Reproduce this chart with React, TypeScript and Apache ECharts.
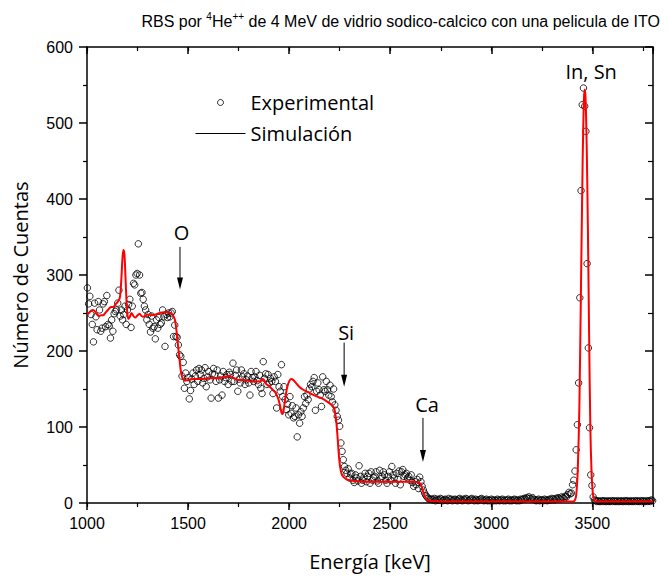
import React, { useEffect, useRef } from "react";
import * as echarts from "echarts";

// ---------- Experimental spectrum (channels, 6 keV per channel from 1002 keV) ----------
const expStartKeV = 1002;
const expStepKeV = 6;
const expRegionA = [
  283, 262, 272, 248, 235, 212, 263, 245, 228, 265,
  254, 226, 230, 262, 265, 232, 273, 235, 233, 217,
  241, 226, 249, 252, 254, 263, 280, 246, 254, 241,
  248, 259, 235, 254, 261, 268, 231, 259, 289, 287,
  300, 302, 341, 300, 276, 277, 268, 259, 254, 241,
  248, 235, 225, 246, 230, 232, 216, 241, 230, 244,
  235, 237, 254, 245, 206, 248, 244, 250, 245, 250,
  252, 219, 234, 219, 218, 208, 195, 193, 167, 185,
  151, 171, 160,
];
const expRegionB = [
  165, 137, 148, 163, 171, 156, 167, 175, 160, 177,
  169, 175, 158, 164, 178, 153, 166, 173, 162, 138,
  170, 177, 169, 160, 175, 138, 162, 167, 142, 173,
  160, 165, 169, 156, 172, 169, 160, 184, 160, 168,
  175, 147, 163, 158, 175, 166, 170, 156, 162, 167,
  158, 142, 173, 165, 160, 166, 173, 161, 156, 168,
  151, 144, 186, 164, 170, 156, 169, 158, 164, 160,
  144, 166, 160, 125, 169, 153, 147, 182, 140, 153,
  136, 123, 130, 116, 140, 118, 128, 112, 114, 125,
  87, 116, 105, 120, 114, 125, 140, 131, 142, 136,
  150, 156, 153, 160, 165, 122, 147, 158, 149, 142,
  127, 166, 149, 147, 160, 149, 142, 155, 140, 133,
  150, 129, 122, 114,
];
const expRegionC = [
  109, 101, 79, 68, 57, 48, 43, 39, 45, 33,
  38, 39, 30, 27, 37, 33, 29, 49, 35, 26,
  30, 34, 39, 28, 35, 39, 26, 41, 30, 33,
  35, 41, 29, 26, 43, 32, 35, 41, 37, 30,
  26, 35, 41, 30, 48, 37, 33, 26, 39, 31,
  42, 24, 41, 44, 35, 37, 39, 33, 35, 30,
  37, 27, 22, 28, 24, 31, 19, 34, 28, 22,
  17, 13, 10, 8, 6, 5, 5,
];
const expRegionD = [
  5, 4, 6, 3, 5, 4, 4, 6, 5, 3, 4, 5, 4, 3, 6, 4, 5, 3, 4, 5,
  4, 3, 5, 6, 4, 3, 5, 4, 6, 5, 3, 4, 5, 6, 4, 3, 5, 4, 3, 4,
  5, 6, 4, 3, 4, 5, 3, 4, 3, 5, 4, 3, 4, 3, 5, 4, 3, 4, 5, 3,
  4, 3, 4, 5, 3, 4, 3, 4, 5, 4, 3, 4, 3, 5, 4, 5, 6, 5, 7, 6,
  8, 6, 5, 7, 5, 4, 3, 4, 5, 3, 4, 4, 3, 5, 4, 3, 4, 5, 4, 6,
  5, 4, 6, 5, 7, 6, 5, 8, 7, 6, 9, 8, 11, 14, 12,
];
const expRegionE = [13, 24, 30, 42, 70, 103, 158, 270, 411, 524, 546, 522, 489, 315, 204, 99, 37, 23, 8, 4];
const expRegionF = [
  3, 2, 3, 2, 2, 3, 2, 3, 2, 2, 3, 2, 2, 3, 2, 3, 2, 2, 3, 2,
  2, 3, 2, 2, 3, 2, 3, 2, 2, 3, 2, 2, 3, 2, 3, 2, 2, 3, 2, 3,
  2, 2, 3, 2, 3, 2, 4, 3,
];

// ---------- Simulation curve ----------
const simEnergy = [
  1000, 1010, 1020, 1030, 1040, 1050, 1060, 1070, 1080, 1090, 1100, 1110, 1120, 1130, 1140, 1150, 1160,
  1165, 1170, 1175, 1180, 1185, 1190, 1195, 1200, 1205, 1212, 1220, 1230, 1240, 1250, 1260, 1270, 1280,
  1290, 1300, 1320, 1340, 1360, 1380, 1400, 1415, 1425, 1435, 1442, 1450, 1458, 1466, 1475, 1485, 1500,
  1530, 1560, 1600, 1640, 1680, 1700, 1720, 1750, 1780, 1810, 1840, 1860, 1868, 1875, 1885, 1900, 1915,
  1930, 1945, 1955, 1962, 1967, 1972, 1980, 1990, 2000, 2010, 2020, 2030, 2050, 2070, 2100, 2130, 2160,
  2190, 2210, 2222, 2228, 2234, 2240, 2246, 2252, 2260, 2270, 2285, 2320, 2360, 2400, 2500, 2600, 2640,
  2650, 2656, 2662, 2668, 2675, 2682, 2692, 2750, 2900, 3000, 3100, 3200, 3300, 3400, 3412, 3420, 3428,
  3436, 3444, 3452, 3458, 3462, 3466, 3472, 3478, 3484, 3490, 3496, 3502, 3508, 3515, 3600, 3700, 3800,
];
const simCounts = [
  248, 250, 253, 254, 252, 248, 246, 247, 247, 250, 253, 256, 258, 258, 261, 264, 268,
  275, 295, 320, 333, 328, 300, 268, 248, 242, 245, 250, 246, 244, 247, 249, 246, 245,
  247, 248, 247, 248, 250, 251, 251, 250, 247, 241, 228, 208, 188, 171, 163, 161, 162,
  163, 163, 164, 164, 166, 167, 165, 162, 162, 160, 160, 160, 163, 162, 157, 154, 150,
  146, 138, 128, 119, 117, 121, 136, 152, 160, 163, 162, 159, 153, 149, 145, 141, 138,
  133, 129, 125, 118, 105, 85, 63, 48, 38, 34, 31, 29, 28, 28, 28, 28, 27,
  25, 21, 16, 11, 7, 4, 3, 2, 2, 2, 2, 2, 2, 2, 3, 10, 45,
  130, 290, 450, 530, 544, 535, 470, 360, 220, 100, 40, 14, 5, 2, 2, 2, 2,
];

// ---------- Annotations ----------
const elementLabels = ["O", "Si", "Ca"];
const elementArrowEnergy = [1460, 2272, 2662];
const elementArrowTop = [337, 211, 112];
const elementArrowTip = [281, 153, 54];
const elementLabelEnergy = [1468, 2282, 2682];
const elementLabelCounts = [356, 225, 129];
const peakLabel = "In, Sn";
const peakLabelEnergy = 3494;
const peakLabelCounts = 568;

const xTickValues = [1000, 1500, 2000, 2500, 3000, 3500];

const expValues = [...expRegionA, ...expRegionB, ...expRegionC, ...expRegionD, ...expRegionE, ...expRegionF];
const expPoints = expValues.map((v, i) => [expStartKeV + i * expStepKeV, v]);
const simPoints = simEnergy.map((e, i) => [e, simCounts[i]]);

const BLACK = "#000";
const CLEAR = "rgba(0,0,0,0)";
const NAME_FONT = "'Open Sans', 'Noto Sans', sans-serif";
const TICK_FONT = "'Liberation Sans', Arial, sans-serif";

export default function App() {
  const ref = useRef<HTMLDivElement>(null);

  useEffect(() => {
    if (!ref.current) return;
    const chart = echarts.init(ref.current, null, { renderer: "svg" });
    const axisLine = { show: true, onZero: false, lineStyle: { color: BLACK, width: 1.5 } };
    const xRange = { min: xTickValues[0], max: 3800 };
    const plainNumber = (v: number) => String(v);
    const option: any = {
      animation: false,
      backgroundColor: "#fff",
      title: {
        text: "RBS por {s|4}He{s|++} de 4 MeV de vidrio sodico-calcico con una pelicula de ITO",
        right: 3,
        top: 6,
        textStyle: {
          fontSize: 16,
          fontFamily: TICK_FONT,
          fontWeight: "normal",
          color: BLACK,
          lineHeight: 20,
          rich: {
            s: { fontSize: 10, lineHeight: 10, verticalAlign: "top", fontFamily: TICK_FONT, color: BLACK },
          },
        },
      },
      grid: { left: 87, right: 15, top: 47, bottom: 74, containLabel: false, outerBoundsMode: "none" },
      legend: {
        orient: "vertical",
        left: 190,
        top: 86,
        itemWidth: 50,
        itemHeight: 6,
        itemGap: 8,
        selectedMode: false,
        textStyle: { fontSize: 20, fontFamily: NAME_FONT, color: BLACK, lineHeight: 23 },
        data: [
          {
            name: "Experimental",
            icon: "circle",
            itemStyle: { color: CLEAR, borderColor: BLACK, borderWidth: 1 },
          },
          {
            name: "Simulación",
            itemStyle: { color: CLEAR, borderColor: CLEAR, borderWidth: 0 },
            lineStyle: { color: BLACK, width: 1 },
          },
        ],
      },
      xAxis: [
        {
          type: "value",
          position: "bottom",
          ...xRange,
          interval: 500,
          axisLine,
          axisTick: { show: true, inside: false, length: 7, lineStyle: { color: BLACK, width: 1.5 } },
          axisLabel: {
            show: true,
            showMaxLabel: false,
            formatter: plainNumber,
            fontSize: 16,
            fontFamily: TICK_FONT,
            color: BLACK,
            margin: 12,
          },
          splitLine: { show: false },
          name: "Energía [keV]",
          nameLocation: "middle",
          nameGap: 48,
          nameTextStyle: { fontSize: 20, fontFamily: NAME_FONT, color: BLACK },
        },
        {
          type: "value",
          position: "top",
          ...xRange,
          interval: 500,
          axisLine,
          axisTick: { show: true, inside: true, length: 7, lineStyle: { color: BLACK, width: 1.5 } },
          axisLabel: { show: false },
          splitLine: { show: false },
        },
        {
          type: "value",
          position: "bottom",
          ...xRange,
          interval: 250,
          axisLine: { show: false, onZero: false },
          axisTick: { show: true, inside: false, length: 4, lineStyle: { color: BLACK, width: 1.2 } },
          axisLabel: { show: false },
          splitLine: { show: false },
        },
        {
          type: "value",
          position: "top",
          ...xRange,
          interval: 250,
          axisLine: { show: false, onZero: false },
          axisTick: { show: true, inside: true, length: 4, lineStyle: { color: BLACK, width: 1.2 } },
          axisLabel: { show: false },
          splitLine: { show: false },
        },
      ],
      yAxis: [
        {
          type: "value",
          position: "left",
          min: 0,
          max: 600,
          interval: 100,
          axisLine,
          axisTick: { show: true, inside: false, length: 8, lineStyle: { color: BLACK, width: 1.5 } },
          minorTick: { show: true, splitNumber: 2, length: 4, lineStyle: { color: BLACK, width: 1.2 } },
          axisLabel: { show: true, formatter: plainNumber, fontSize: 16, fontFamily: TICK_FONT, color: BLACK, margin: 14 },
          splitLine: { show: false },
          minorSplitLine: { show: false },
          name: "Número de Cuentas",
          nameLocation: "middle",
          nameGap: 57,
          nameTextStyle: { fontSize: 20, fontFamily: NAME_FONT, color: BLACK },
        },
        {
          type: "value",
          position: "right",
          min: 0,
          max: 600,
          interval: 100,
          axisLine,
          axisTick: { show: true, inside: true, length: 8, lineStyle: { color: BLACK, width: 1.5 } },
          minorTick: { show: true, splitNumber: 2, length: 5, lineStyle: { color: BLACK, width: 1.2 } },
          axisLabel: { show: false },
          splitLine: { show: false },
          minorSplitLine: { show: false },
        },
      ],
      series: [
        {
          name: "Experimental",
          type: "scatter",
          xAxisIndex: 0,
          yAxisIndex: 0,
          data: expPoints,
          symbol: "circle",
          symbolSize: 6.5,
          itemStyle: { color: CLEAR, borderColor: BLACK, borderWidth: 1 },
          z: 2,
        },
        {
          name: "Simulación",
          type: "line",
          xAxisIndex: 0,
          yAxisIndex: 0,
          data: simPoints,
          symbol: "none",
          showSymbol: false,
          smooth: 0.3,
          lineStyle: { color: "#ff0000", width: 2 },
          itemStyle: { color: "#ff0000" },
          z: 3,
        },
      ],
    };
    chart.setOption(option);

    const toPx = (e: number, v: number) =>
      chart.convertToPixel({ xAxisIndex: 0, yAxisIndex: 0 }, [e, v]) as number[];
    const graphics: any[] = [];
    elementLabels.forEach((lab, k) => {
      const [tx, ty] = toPx(elementLabelEnergy[k], elementLabelCounts[k]);
      graphics.push({
        type: "text",
        x: tx,
        y: ty,
        style: { text: lab, fontSize: 20, fontFamily: NAME_FONT, fill: BLACK, align: "center", verticalAlign: "middle" },
        z: 10,
      });
      const [ax, ay1] = toPx(elementArrowEnergy[k], elementArrowTop[k]);
      const [, ay2] = toPx(elementArrowEnergy[k], elementArrowTip[k]);
      graphics.push({
        type: "line",
        shape: { x1: ax, y1: ay1, x2: ax, y2: ay2 - 10 },
        style: { stroke: BLACK, lineWidth: 1 },
        z: 10,
      });
      graphics.push({
        type: "polygon",
        shape: { points: [[ax - 3, ay2 - 12], [ax + 3, ay2 - 12], [ax, ay2]] },
        style: { fill: BLACK },
        z: 10,
      });
    });
    const [px, py] = toPx(peakLabelEnergy, peakLabelCounts);
    graphics.push({
      type: "text",
      x: px,
      y: py,
      style: { text: peakLabel, fontSize: 20, fontFamily: NAME_FONT, fill: BLACK, align: "center", verticalAlign: "middle" },
      z: 10,
    });
    chart.setOption({ graphic: graphics });

    return () => chart.dispose();
  }, []);

  return (
    <div
      ref={ref}
      style={{ position: "fixed", left: 0, top: 0, width: 668, height: 577, background: "#fff" }}
    />
  );
}
